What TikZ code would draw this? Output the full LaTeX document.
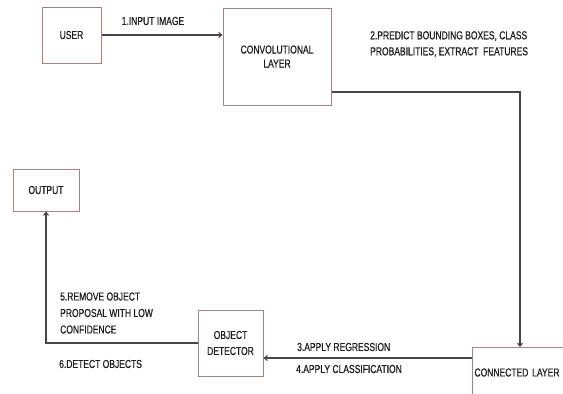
\documentclass[tikz,border=0pt]{standalone}
\usepackage{fontspec}
\setmainfont[FakeStretch=0.74,FakeBold=0.6]{Liberation Sans}
\usetikzlibrary{arrows.meta}
\definecolor{boxc}{RGB}{170,130,125}
\definecolor{linec}{RGB}{70,70,70}
\definecolor{txtc}{RGB}{30,30,30}
\begin{document}
\begin{tikzpicture}[x=1pt,y=-1pt,
  every node/.style={text=txtc, font=\fontsize{11.5}{14}\selectfont},
  box/.style={draw=boxc, line width=1pt, inner sep=0pt, align=center},
  lbl/.style={inner sep=0pt, align=left},
  conn/.style={draw=linec, line width=1.1pt},
  arr/.style={conn, -{Straight Barb[length=3pt,width=5pt]}}]
\useasboundingbox[fill=white] (0,0) rectangle (563,394);
\node[box, minimum width=59pt, minimum height=56pt] (user) at (71.5,35) {USER};
\node[box, minimum width=108pt, minimum height=97pt] (convl) at (277,56.5) {CONVOLUTIONAL\\LAYER};
\node[box, minimum width=66pt, minimum height=42pt] (output) at (46,190) {OUTPUT};
\node[box, minimum width=65pt, minimum height=66pt, font=\fontsize{11.5}{16}\selectfont] (objdet) at (230.5,343) {OBJECT\\DETECTOR};
\node[box, anchor=north west, minimum width=110pt, minimum height=50pt, text width=106pt, inner xsep=2pt, align=left] (connl) at (472,347) {CONNECTED LAYER};
\coordinate (c1) at (520,92);
\coordinate (c2) at (0,358);
\draw[arr] (user.east) -- (user.east -| convl.west);
\draw[arr] (convl.east |- c1) -| (c1 |- connl.north);
\draw[arr] (connl.west |- c2) -- (c2 -| objdet.east);
\draw[arr] (objdet.west) -| (output.south);
\node[lbl] (l1) at (153,21) {1.INPUT IMAGE};
\node[lbl, font=\fontsize{11.5}{16}\selectfont, anchor=west] (l2) at (370,44) {2.PREDICT BOUNDING BOXES, CLASS\\PROBABILITIES, EXTRACT\ \ FEATURES};
\node[lbl, anchor=west] (l3) at (297,347) {3.APPLY REGRESSION};
\node[lbl, anchor=west] (l4) at (296,369) {4.APPLY CLASSIFICATION};
\node[lbl, font=\fontsize{11.5}{16.5}\selectfont, anchor=west] (l5) at (60,313) {5.REMOVE OBJECT\\PROPOSAL WITH LOW\\CONFIDENCE};
\node[lbl, anchor=west] (l6) at (59,364) {6.DETECT OBJECTS};
\end{tikzpicture}
\end{document}
